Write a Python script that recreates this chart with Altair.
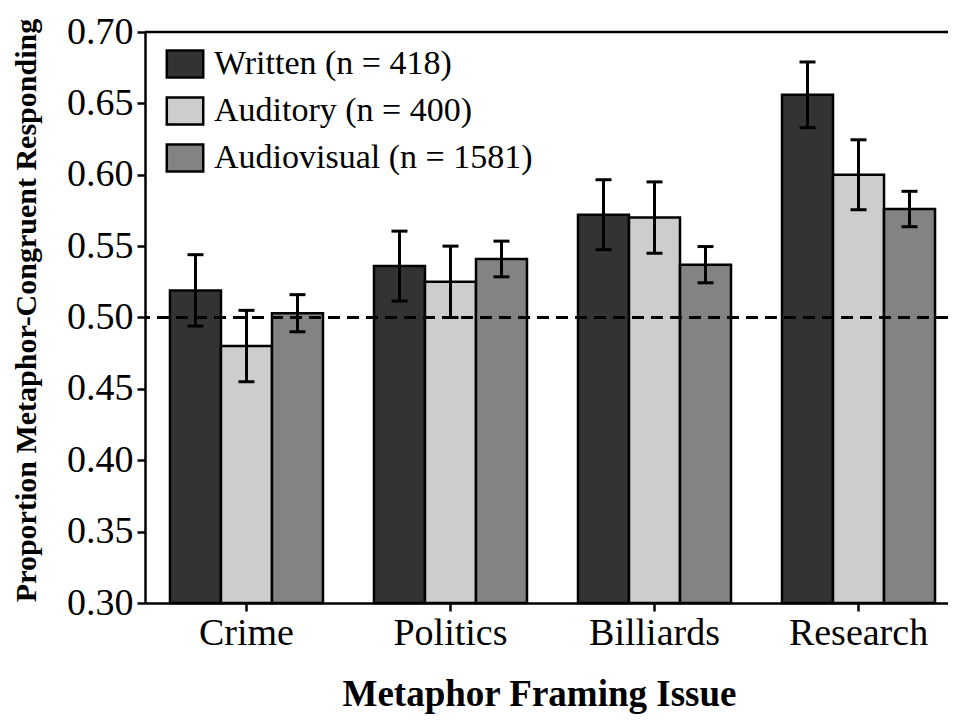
import altair as alt
import pandas as pd

issues = ["Crime", "Politics", "Billiards", "Research"]
conditions = ["Written (n = 418)", "Auditory (n = 400)", "Audiovisual (n = 1581)"]
colors = ["#323332", "#cdcdcb", "#838383"]

written = [0.519, 0.536, 0.572, 0.656]
auditory = [0.480, 0.525, 0.570, 0.600]
audiovisual = [0.503, 0.541, 0.537, 0.576]

written_se = [0.025, 0.0245, 0.0245, 0.023]
auditory_se = [0.025, 0.025, 0.025, 0.0245]
audiovisual_se = [0.013, 0.0125, 0.0127, 0.0124]

chance = 0.50
y_ticks = [0.30, 0.35, 0.40, 0.45, 0.50, 0.55, 0.60, 0.65, 0.70]

rows = []
for cond, vals, ses in zip(conditions, [written, auditory, audiovisual],
                           [written_se, auditory_se, audiovisual_se]):
    for issue, v, s in zip(issues, vals, ses):
        rows.append({"issue": issue, "cond": cond, "value": v,
                     "lo": v - s, "hi": v + s})
df = pd.DataFrame(rows)

FONT = "Liberation Serif"

x_enc = alt.X("issue:N", sort=issues,
              scale=alt.Scale(paddingInner=0.25, paddingOuter=0.093, align=0.658),
              axis=alt.Axis(title="Metaphor Framing Issue", labelAngle=0,
                            labelFontSize=38, labelPadding=3,
                            titleFontSize=37, titleFontWeight="bold",
                            titleBaseline="alphabetic", titleY=102, titleX=394,
                            tickSize=8, tickWidth=2.5, tickColor="black",
                            domainWidth=2.5, domainColor="black"))
xoff = alt.XOffset("cond:N", sort=conditions,
                   scale=alt.Scale(domain=conditions, paddingInner=0, paddingOuter=0))
y_scale = alt.Scale(domain=[0.30, 0.70], nice=False, zero=False)

bars = alt.Chart(df).mark_bar(stroke="black", strokeWidth=2.5).encode(
    x=x_enc,
    xOffset=xoff,
    y=alt.Y("value:Q", scale=y_scale,
            axis=alt.Axis(title="Proportion Metaphor-Congruent Responding",
                          values=y_ticks, format=".2f",
                          labelFontSize=38, labelPadding=4,
                          titleFontSize=30, titleFontWeight="bold",
                          titleX=-104, titleY=278,
                          tickSize=8, tickWidth=2.5, tickColor="black",
                          domainWidth=2.5, domainColor="black", grid=False)),
    y2=alt.datum(0.30),
    color=alt.Color("cond:N", sort=conditions,
                    scale=alt.Scale(domain=conditions, range=colors),
                    legend=alt.Legend(title=None, orient="none",
                                      legendX=23, legendY=15,
                                      symbolType="M-1.35,-1H1.35V1H-1.35Z",
                                      symbolSize=729,
                                      symbolStrokeColor="black",
                                      symbolStrokeWidth=2.5,
                                      symbolOpacity=1,
                                      labelFontSize=34, labelFont=FONT,
                                      labelColor="black", labelLimit=0,
                                      labelOffset=12, rowPadding=9,
                                      padding=0)),
)

chance_df = pd.DataFrame({"y": [chance]})
chance_line = alt.Chart(chance_df).mark_rule(
    color="black", strokeWidth=3, strokeDash=[12, 7]
).encode(y=alt.Y("y:Q", scale=y_scale))

top_df = pd.DataFrame({"y": [y_ticks[-1]]})
top_line = alt.Chart(top_df).mark_rule(color="black", strokeWidth=2.5).encode(
    y=alt.Y("y:Q", scale=y_scale))

err = alt.Chart(df).mark_rule(color="black", strokeWidth=3).encode(
    x=alt.X("issue:N", sort=issues),
    xOffset=xoff,
    y=alt.Y("lo:Q", scale=y_scale),
    y2="hi:Q",
)
cap_lo = alt.Chart(df).mark_tick(color="black", thickness=3, size=16, opacity=1).encode(
    x=alt.X("issue:N", sort=issues),
    xOffset=xoff,
    y=alt.Y("lo:Q", scale=y_scale),
)
cap_hi = alt.Chart(df).mark_tick(color="black", thickness=3, size=16, opacity=1).encode(
    x=alt.X("issue:N", sort=issues),
    xOffset=xoff,
    y=alt.Y("hi:Q", scale=y_scale),
)

chart = alt.layer(bars, chance_line, top_line, err, cap_lo, cap_hi).properties(
    width=803, height=571,
    padding={"left": 137, "top": 24, "right": 0, "bottom": 113},
    autosize=alt.AutoSizeParams(type="none"),
).configure(
    font=FONT,
).configure_view(stroke=None).configure_axis(
    labelColor="black", titleColor="black", labelFont=FONT, titleFont=FONT
)

chart.save("out.html", embed_options={"renderer": "svg", "actions": False})
